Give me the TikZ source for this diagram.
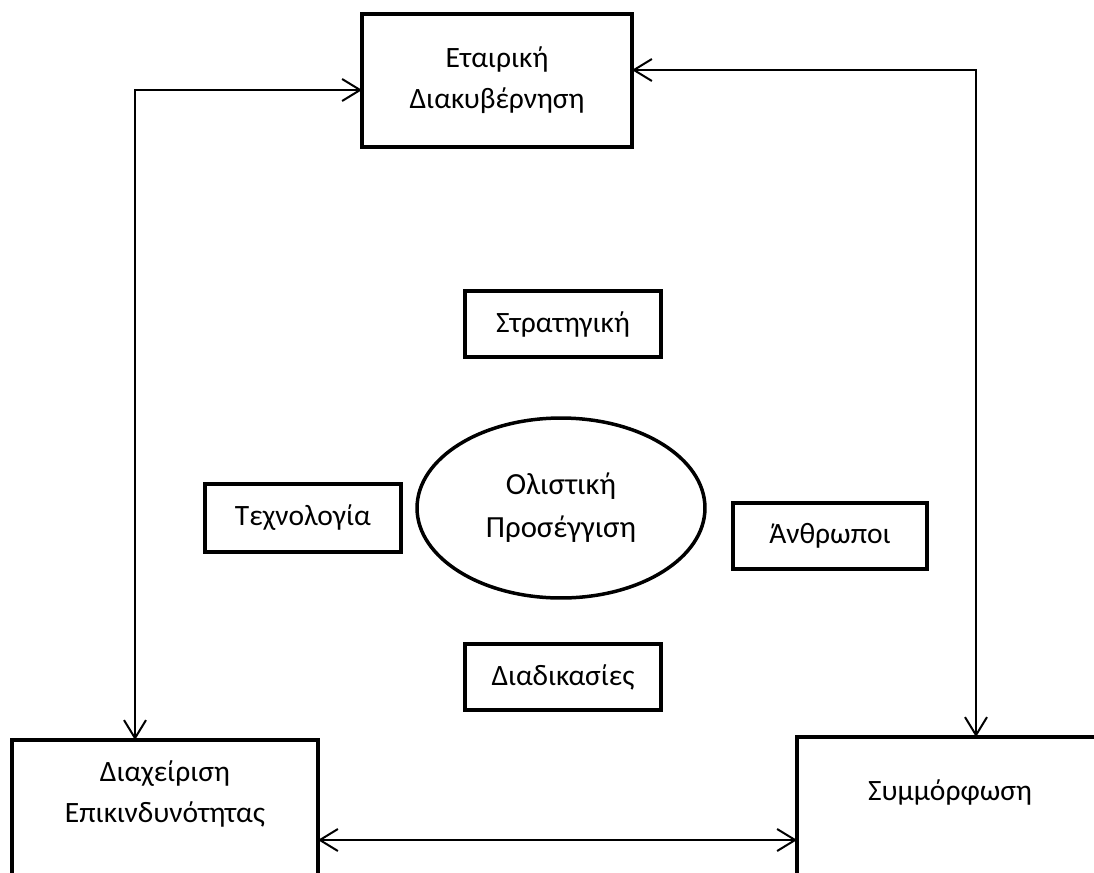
\documentclass[tikz,border=0pt]{standalone}
\usepackage{fontspec}
\setmainfont{Carlito}
\usetikzlibrary{arrows.meta,shapes.geometric}

\tikzset{
  thickbox/.style={draw, line width=0.08cm, rectangle, inner sep=0pt, outer sep=0pt},
  label text/.style={align=center, font=\fontsize{16.8}{23.5}\selectfont, inner sep=0pt},
  holistic/.style={draw, ellipse, line width=0.07cm, inner sep=0pt, outer sep=0pt,
    minimum width=5.76cm, minimum height=3.6cm, align=center,
    font=\fontsize{17.5}{24.5}\selectfont},
  link/.style={line width=0.04cm,
    {Straight Barb[length=0.36cm,width=0.44cm,line width=0.04cm]}-{Straight Barb[length=0.36cm,width=0.44cm,line width=0.04cm]}}
}

\begin{document}
\begin{tikzpicture}[x=0.02cm, y=-0.02cm]
  \clip (0,0) rectangle (1094,872);

  % Governance box at the top
  \node[thickbox, minimum width=5.4cm, minimum height=2.66cm, label text] (gov) at (497,80.5)
    {Εταιρική\\Διακυβέρνηση};

  % The four pillars around the central ellipse
  \node[thickbox, minimum width=3.92cm, minimum height=1.32cm, label text] (strat) at (563,324) {Στρατηγική};
  \node[thickbox, minimum width=3.92cm, minimum height=1.36cm, label text] (tech) at (303,518) {Τεχνολογία};
  \node[thickbox, minimum width=3.88cm, minimum height=1.32cm, label text] (people) at (830,536) {Άνθρωποι};
  \node[thickbox, minimum width=3.92cm, minimum height=1.32cm, label text] (proc) at (563,677) {Διαδικασίες};

  \node[holistic] (hol) at (561,508) {Ολιστική\\Προσέγγιση};

  % Bottom boxes, running past the lower edge
  \node[thickbox, minimum width=6.12cm, minimum height=3.3cm] (risk) at (165,822.5) {};
  \node[label text] (risktext) at (165,794) {Διαχείριση\\Επικινδυνότητας};

  \node[thickbox, minimum width=6.12cm, minimum height=3.36cm] (comp) at (950,821) {};
  \node[label text] (comptext) at (950,792) {Συμμόρφωση};

  % Corner points of the connectors
  \coordinate (lc) at (135,90);
  \coordinate (rc) at (976,70);

  \draw[link] (gov.west |- lc) -- (lc) -- (lc |- risk.north);
  \draw[link] (gov.east |- rc) -- (rc) -- (rc |- comp.north);
  \draw[link] (risk.east |- 0,840) -- (comp.west |- 0,840);
\end{tikzpicture}
\end{document}
